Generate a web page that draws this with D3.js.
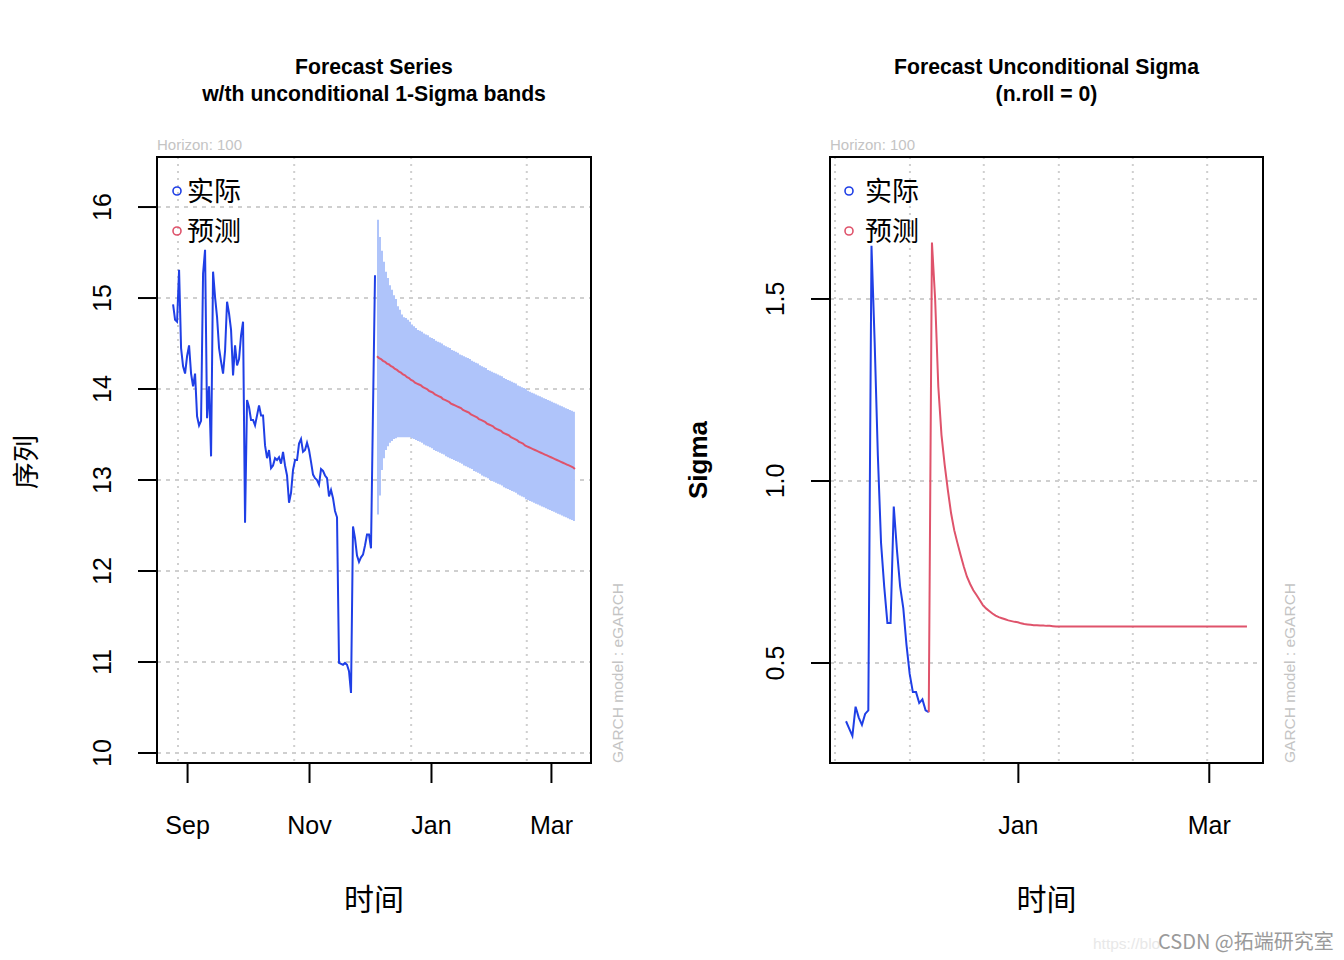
<!DOCTYPE html>
<html lang="zh">
<head>
<meta charset="UTF-8">
<title>GARCH forecast</title>
<script src="https://cdn.jsdelivr.net/npm/d3@7"></script>
<style>
  body { margin: 0; background: #fff; }
  text { font-family: "Liberation Sans", Arial, sans-serif; }
  .cjk { font-family: "Noto Sans CJK SC", sans-serif; }
</style>
</head>
<body>
<svg id="chart" width="1344" height="960"></svg>
<script>
// ---- data ----
const actualStart = "2023-08-25";   // first observed day (daily)
const forecastStart = "2023-12-05"; // first forecast day (horizon 100)
const sigmaStart = "2023-11-08";    // first day of the sigma window

const actual = [
  14.93, 14.76, 14.74, 15.31, 14.45, 14.25, 14.17, 14.36, 14.48, 14.17,
  14.03, 14.17, 13.70, 13.60, 13.65, 15.27, 15.53, 13.68, 14.03, 13.26,
  15.29, 15.01, 14.79, 14.45, 14.30, 14.17, 14.42, 14.96, 14.83, 14.65,
  14.15, 14.48, 14.26, 14.33, 14.59, 14.74, 12.53, 13.88, 13.80, 13.66,
  13.66, 13.60, 13.71, 13.82, 13.71, 13.71, 13.38, 13.24, 13.33, 13.13,
  13.16, 13.24, 13.22, 13.25, 13.18, 13.31, 13.16, 13.05, 12.75, 12.86,
  13.11, 13.22, 13.22, 13.40, 13.45, 13.31, 13.33, 13.41, 13.33, 13.20,
  13.06, 13.02, 13.00, 12.95, 13.12, 13.10, 13.05, 13.02, 12.82, 12.89,
  12.80, 12.66, 12.59, 10.99, 10.98, 10.97, 10.99, 10.97, 10.90, 10.66,
  12.49, 12.36, 12.17, 12.10, 12.15, 12.18, 12.28, 12.40, 12.40, 12.25,
  13.77, 15.25
];

const fcMean = [
  14.36, 14.34, 14.33, 14.31, 14.30, 14.28, 14.27, 14.25, 14.24, 14.22,
  14.21, 14.19, 14.18, 14.16, 14.15, 14.13, 14.12, 14.10, 14.09, 14.07,
  14.06, 14.05, 14.04, 14.02, 14.01, 14.00, 13.98, 13.97, 13.96, 13.94,
  13.93, 13.92, 13.91, 13.89, 13.88, 13.87, 13.86, 13.84, 13.83, 13.82,
  13.81, 13.80, 13.79, 13.77, 13.76, 13.75, 13.74, 13.72, 13.71, 13.70,
  13.69, 13.67, 13.66, 13.65, 13.64, 13.62, 13.61, 13.60, 13.59, 13.57,
  13.56, 13.55, 13.54, 13.52, 13.51, 13.50, 13.49, 13.47, 13.46, 13.45,
  13.44, 13.42, 13.41, 13.40, 13.38, 13.37, 13.36, 13.35, 13.34, 13.33,
  13.32, 13.31, 13.30, 13.29, 13.28, 13.27, 13.26, 13.25, 13.24, 13.23,
  13.22, 13.21, 13.20, 13.19, 13.18, 13.17, 13.16, 13.15, 13.14, 13.12
];

const fcUpper = [
  15.86, 15.67, 15.52, 15.40, 15.29, 15.22, 15.14, 15.09, 15.03, 14.99,
  14.91, 14.87, 14.82, 14.79, 14.78, 14.76, 14.74, 14.71, 14.69, 14.67,
  14.65, 14.64, 14.63, 14.61, 14.60, 14.59, 14.57, 14.56, 14.55, 14.53,
  14.52, 14.51, 14.50, 14.48, 14.47, 14.46, 14.45, 14.43, 14.42, 14.41,
  14.40, 14.38, 14.37, 14.36, 14.35, 14.34, 14.33, 14.31, 14.30, 14.29,
  14.28, 14.26, 14.25, 14.24, 14.23, 14.21, 14.20, 14.19, 14.18, 14.17,
  14.16, 14.15, 14.14, 14.12, 14.11, 14.10, 14.09, 14.08, 14.07, 14.06,
  14.04, 14.03, 14.02, 14.01, 14.00, 13.98, 13.97, 13.96, 13.95, 13.94,
  13.93, 13.92, 13.91, 13.90, 13.89, 13.88, 13.87, 13.86, 13.85, 13.84,
  13.83, 13.82, 13.81, 13.80, 13.79, 13.78, 13.77, 13.76, 13.75, 13.74
];

const fcLower = [
  12.62, 12.83, 13.11, 13.24, 13.33, 13.37, 13.41, 13.43, 13.45, 13.46,
  13.47, 13.47, 13.47, 13.47, 13.47, 13.47, 13.47, 13.46, 13.45, 13.44,
  13.43, 13.42, 13.41, 13.39, 13.38, 13.37, 13.36, 13.35, 13.33, 13.32,
  13.31, 13.30, 13.29, 13.28, 13.26, 13.25, 13.24, 13.23, 13.22, 13.21,
  13.20, 13.19, 13.18, 13.16, 13.15, 13.14, 13.13, 13.12, 13.10, 13.09,
  13.08, 13.07, 13.05, 13.04, 13.03, 13.02, 13.00, 12.99, 12.98, 12.97,
  12.96, 12.95, 12.94, 12.92, 12.91, 12.90, 12.89, 12.88, 12.87, 12.86,
  12.84, 12.83, 12.82, 12.81, 12.79, 12.78, 12.77, 12.76, 12.75, 12.74,
  12.73, 12.72, 12.71, 12.70, 12.69, 12.68, 12.67, 12.66, 12.65, 12.64,
  12.63, 12.62, 12.61, 12.60, 12.59, 12.58, 12.57, 12.56, 12.55, 12.53
];

const sigmaActual = [
  0.34, 0.32, 0.30, 0.38, 0.35, 0.33, 0.36, 0.37, 1.646, 1.38,
  1.07, 0.83, 0.71, 0.61, 0.61, 0.93, 0.81, 0.71, 0.65, 0.55,
  0.47, 0.42, 0.42, 0.39, 0.40, 0.37, 0.365
];

const sigmaFc = [
  1.655, 1.50, 1.259, 1.126, 1.044, 0.975, 0.912, 0.865, 0.830, 0.797,
  0.765, 0.737, 0.717, 0.700, 0.687, 0.673, 0.659, 0.650, 0.643, 0.636,
  0.630, 0.626, 0.623, 0.620, 0.617, 0.615, 0.613, 0.612, 0.609, 0.607,
  0.606, 0.605, 0.604, 0.604, 0.603, 0.603, 0.602, 0.602, 0.601, 0.600,
  0.600, 0.600, 0.600, 0.600, 0.600, 0.600, 0.600, 0.600, 0.600, 0.600,
  0.600, 0.600, 0.600, 0.600, 0.600, 0.600, 0.600, 0.600, 0.600, 0.600,
  0.600, 0.600, 0.600, 0.600, 0.600, 0.600, 0.600, 0.600, 0.600, 0.600,
  0.600, 0.600, 0.600, 0.600, 0.600, 0.600, 0.600, 0.600, 0.600, 0.600,
  0.600, 0.600, 0.600, 0.600, 0.600, 0.600, 0.600, 0.600, 0.600, 0.600,
  0.600, 0.600, 0.600, 0.600, 0.600, 0.600, 0.600, 0.600, 0.600, 0.600
];

const yTicksL = [10, 11, 12, 13, 14, 15, 16];
const yTicksR = [0.5, 1.0, 1.5];
const xTicksL = ["2023-09-01", "2023-11-01", "2024-01-01", "2024-03-01"];
const xTicksR = ["2024-01-01", "2024-03-01"];
const gridXL = ["2023-08-27T11:00", "2023-10-24T14:00", "2023-12-22T02:00", "2024-02-17T22:00"];
const gridXR = ["2023-11-04T13:00", "2023-11-28T02:00", "2023-12-21T07:00",
                "2024-01-13T21:00", "2024-02-06T03:00", "2024-02-29T12:00"];
const yLimL = [9.89, 16.55];
const yLimR = [0.2253, 1.890];
const legendLabels = ["实际", "预测"];

// ---- setup ----
const BLUE = "#1f3fe6", RED = "#df536b", BAND = "#afc4fa", GRID = "#cfcfcf", FAINT = "#c4c4c4";
const svg = d3.select("#chart");
const parseDay = d3.timeParse("%Y-%m-%d");
const parseHour = d3.timeParse("%Y-%m-%dT%H:%M");
const dayAt = (start, i) => d3.timeDay.offset(parseDay(start), i);

const actualDates = actual.map((_, i) => dayAt(actualStart, i));
const fcDates = fcMean.map((_, i) => dayAt(forecastStart, i));
const sigmaDates = sigmaActual.map((_, i) => dayAt(sigmaStart, i));

function padded(d0, d1) {
  const p = (d1 - d0) * 0.04;
  return [new Date(+d0 - p), new Date(+d1 + p)];
}

function panel(opt) {
  const g = svg.append("g");
  const x = d3.scaleTime().domain(opt.xDomain).range([opt.left, opt.right]);
  const y = d3.scaleLinear().domain(opt.yLim).range([opt.bottom, opt.top]);

  // grid
  g.selectAll(".gx").data(opt.gridX).enter().append("line")
    .attr("x1", d => x(parseHour(d))).attr("x2", d => x(parseHour(d)))
    .attr("y1", opt.top).attr("y2", opt.bottom)
    .attr("stroke", GRID).attr("stroke-width", 2).attr("stroke-dasharray", "2,5");
  g.selectAll(".gy").data(opt.yTicks).enter().append("line")
    .attr("x1", opt.left).attr("x2", opt.right)
    .attr("y1", d => y(d)).attr("y2", d => y(d))
    .attr("stroke", GRID).attr("stroke-width", 2).attr("stroke-dasharray", "4,5");

  opt.draw(g, x, y);

  // frame
  g.append("rect").attr("x", opt.left).attr("y", opt.top)
    .attr("width", opt.right - opt.left).attr("height", opt.bottom - opt.top)
    .attr("fill", "none").attr("stroke", "#000").attr("stroke-width", 2);

  // x axis
  const xAxis = d3.axisBottom(x).tickValues(opt.xTicks.map(parseDay))
    .tickFormat(d3.timeFormat("%b")).tickSize(20).tickPadding(33);
  const ax = g.append("g").attr("transform", `translate(0,${opt.bottom})`).call(xAxis);
  ax.select(".domain").remove();
  ax.selectAll("line").attr("stroke-width", 2);
  ax.selectAll("text").attr("font-size", 25).attr("fill", "#000");

  // y axis (rotated labels, R style)
  const ay = g.append("g");
  ay.selectAll("line").data(opt.yTicks).enter().append("line")
    .attr("x1", opt.left - 19).attr("x2", opt.left)
    .attr("y1", d => y(d)).attr("y2", d => y(d))
    .attr("stroke", "#000").attr("stroke-width", 2);
  ay.selectAll("text").data(opt.yTicks).enter().append("text")
    .attr("transform", d => `translate(${opt.left - 46},${y(d)}) rotate(-90)`)
    .attr("text-anchor", "middle").attr("font-size", 25)
    .text(opt.yFormat);

  // titles
  const cx = (opt.left + opt.right) / 2;
  g.selectAll(".title").data(opt.title).enter().append("text")
    .attr("x", cx).attr("y", (d, i) => 74 + i * 27)
    .attr("text-anchor", "middle").attr("font-size", 21.2).attr("font-weight", "bold")
    .text(d => d);

  g.append("text").attr("x", opt.left).attr("y", 150)
    .attr("font-size", 15).attr("fill", FAINT).text("Horizon: 100");

  g.append("text")
    .attr("transform", `translate(${opt.right + 32},${opt.bottom}) rotate(-90)`)
    .attr("font-size", 15.5).attr("fill", FAINT).text("GARCH model :  eGARCH");

  g.append("text").attr("class", "cjk").attr("x", cx).attr("y", 910)
    .attr("text-anchor", "middle").attr("font-size", 30).text("时间");

  // legend
  const lg = g.selectAll(".lg").data(legendLabels).enter().append("g")
    .attr("transform", (d, i) => `translate(${opt.left + opt.legendDx},${191 + i * 40})`);
  lg.append("circle").attr("r", 4).attr("fill", "none").attr("stroke-width", 1.6)
    .attr("stroke", (d, i) => i === 0 ? BLUE : RED);
  lg.append("text").attr("class", "cjk").attr("x", opt.legendTx).attr("y", 10)
    .attr("font-size", 27).text(d => d);

  return { g, x, y };
}

// ---- left: forecast series with 1-sigma bands ----
const p1 = panel({
  left: 157, right: 591, top: 157, bottom: 763,
  xDomain: padded(actualDates[0], fcDates[fcDates.length - 1]),
  yLim: yLimL, yTicks: yTicksL, yFormat: d => d,
  xTicks: xTicksL, gridX: gridXL,
  title: ["Forecast Series", "w/th unconditional 1-Sigma bands"],
  legendDx: 20, legendTx: 10,
  draw: (g, x, y) => {
    const band = fcMean.map((m, i) => ({ d: fcDates[i], lo: fcLower[i], hi: fcUpper[i] }));
    g.append("path").datum(band)
      .attr("fill", BAND)
      .attr("d", d3.area().curve(d3.curveStepAfter)
        .x(d => x(d.d)).y0(d => y(d.lo)).y1(d => y(d.hi)));
    g.append("path").datum(actual.map((v, i) => [actualDates[i], v]))
      .attr("fill", "none").attr("stroke", BLUE).attr("stroke-width", 2)
      .attr("d", d3.line().x(d => x(d[0])).y(d => y(d[1])));
    g.append("path").datum(fcMean.map((v, i) => [fcDates[i], v]))
      .attr("fill", "none").attr("stroke", RED).attr("stroke-width", 2)
      .attr("d", d3.line().x(d => x(d[0])).y(d => y(d[1])));
  }
});

svg.append("text").attr("class", "cjk")
  .attr("transform", "translate(36,462) rotate(-90)")
  .attr("text-anchor", "middle").attr("font-size", 27).text("序列");

// ---- right: forecast unconditional sigma ----
const p2 = panel({
  left: 830, right: 1263, top: 157, bottom: 763,
  xDomain: padded(sigmaDates[0], fcDates[fcDates.length - 1]),
  yLim: yLimR, yTicks: yTicksR, yFormat: d3.format(".1f"),
  xTicks: xTicksR, gridX: gridXR,
  title: ["Forecast Unconditional Sigma", "(n.roll = 0)"],
  legendDx: 19, legendTx: 16,
  draw: (g, x, y) => {
    g.append("path").datum(sigmaActual.map((v, i) => [sigmaDates[i], v]))
      .attr("fill", "none").attr("stroke", BLUE).attr("stroke-width", 2)
      .attr("d", d3.line().x(d => x(d[0])).y(d => y(d[1])));
    const last = sigmaActual.length - 1;
    const red = [[sigmaDates[last], sigmaActual[last]]]
      .concat(sigmaFc.map((v, i) => [fcDates[i], v]));
    g.append("path").datum(red)
      .attr("fill", "none").attr("stroke", RED).attr("stroke-width", 2)
      .attr("d", d3.line().x(d => x(d[0])).y(d => y(d[1])));
  }
});

svg.append("text")
  .attr("transform", "translate(707,460) rotate(-90)")
  .attr("text-anchor", "middle").attr("font-size", 26).attr("font-weight", "bold")
  .text("Sigma");

// ---- watermark ----
svg.append("text").attr("x", 1093).attr("y", 949)
  .attr("font-size", 15.5).attr("fill", "#e8e8e8")
  .text("https://blo");
svg.append("text").attr("class", "cjk").attr("x", 1158).attr("y", 949)
  .attr("font-size", 20).attr("fill", "#9a9a9a")
  .text("CSDN @拓端研究室");
</script>
</body>
</html>
